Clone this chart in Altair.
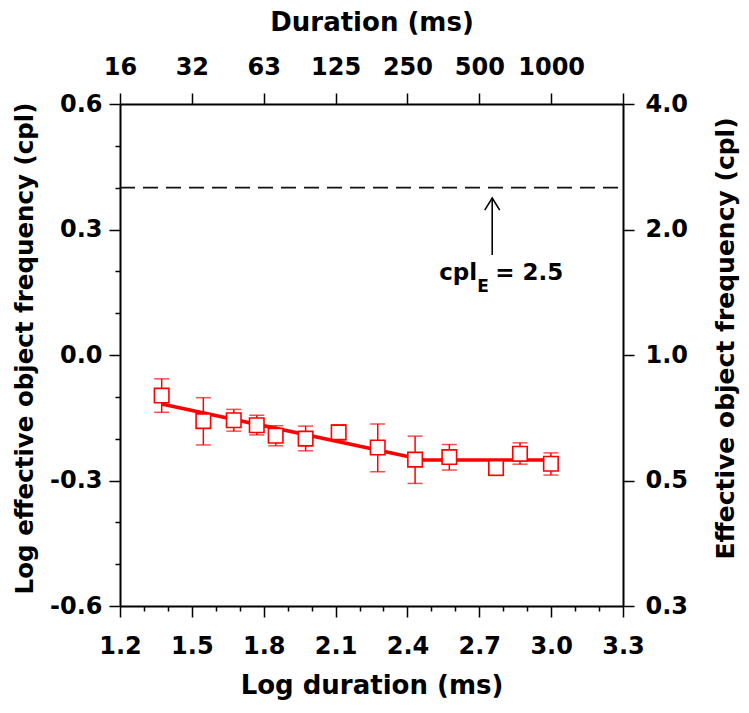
import json
import altair as alt
import pandas as pd
import numpy as np

# ---------------- data ----------------
log_duration = [1.374, 1.548, 1.675, 1.771, 1.850, 1.975, 2.113, 2.276, 2.432, 2.575, 2.770, 2.870, 2.999]
log_freq     = [-0.097, -0.158, -0.156, -0.168, -0.193, -0.200, -0.185, -0.221, -0.250, -0.244, -0.270, -0.236, -0.260]
err_high     = [-0.057, -0.102, -0.130, -0.144, -0.169, -0.170, -0.167, -0.165, -0.194, -0.214, -0.253, -0.210, -0.234]
err_low      = [-0.137, -0.215, -0.182, -0.191, -0.217, -0.229, -0.203, -0.279, -0.307, -0.275, -0.288, -0.261, -0.287]

fit_x = [1.374, 2.47, 2.999]
fit_y = [-0.117, -0.251, -0.251]

criterion_log = 0.4          # cplE = 2.5
arrow_x = 2.754
arrow_top = 0.375
arrow_bottom = 0.239
note_y = 0.179

x_ticks = [1.2, 1.5, 1.8, 2.1, 2.4, 2.7, 3.0, 3.3]
x_tick_labels = ["1.2", "1.5", "1.8", "2.1", "2.4", "2.7", "3.0", "3.3"]
top_tick_labels = ["16", "32", "63", "125", "250", "500", "1000", ""]
y_ticks = [-0.6, -0.3, 0.0, 0.3, 0.6]
y_tick_labels = ["-0.6", "-0.3", "0.0", "0.3", "0.6"]
right_tick_labels = ["0.3", "0.5", "1.0", "2.0", "4.0"]
x_minor = [1.3, 1.4, 1.6, 1.7, 1.9, 2.0, 2.2, 2.3, 2.5, 2.6, 2.8, 2.9, 3.1, 3.2]
y_minor = [-0.5, -0.4, -0.2, -0.1, 0.1, 0.2, 0.4, 0.5]

# ---------------- tables ----------------
pts = pd.DataFrame({"x": log_duration, "y": log_freq, "hi": err_high, "lo": err_low})
fit = pd.DataFrame({"x": fit_x, "y": fit_y})
crit = pd.DataFrame({"x": [x_ticks[0]], "x2": [x_ticks[-1]], "y": [criterion_log]})
arrow = pd.DataFrame({"x": [arrow_x], "y": [arrow_top], "y2": [arrow_bottom], "ty": [note_y]})

FONT = "DejaVu Sans"
RED = "#ff0000"
XS = alt.Scale(domain=[1.2, 3.3], nice=False, zero=False)
YS = alt.Scale(domain=[-0.6, 0.6], nice=False, zero=False)


def lexpr(labels, start, step):
    return f"{json.dumps(labels)}[round((datum.value - ({start})) / {step})]"


common_axis = dict(grid=False, domainColor="black", domainWidth=2, tickColor="black",
                   tickWidth=1.5, labelFont=FONT, labelFontSize=24, labelFontWeight="bold",
                   labelColor="black", titleFont=FONT,
                   titleFontWeight="bold", titleColor="black", labelFlush=False,
                   labelOverlap=False)

ax_bottom = alt.Axis(orient="bottom", values=x_ticks, labelExpr=lexpr(x_tick_labels, 1.2, 0.3),
                     tickSize=11, labelPadding=36, labelBaseline="alphabetic",
                     title="Log duration (ms)", titleX=251.5, titleY=87, titleFontSize=26,
                     titleBaseline="alphabetic", titleAlign="center", **common_axis)
ax_bottom_minor = alt.Axis(orient="bottom", values=x_minor, labels=False, tickSize=5,
                           domain=False, title=None, grid=False, tickColor="black", tickWidth=1.5)
ax_top = alt.Axis(orient="top", values=x_ticks, labelExpr=lexpr(top_tick_labels, 1.2, 0.3),
                  tickSize=11, labelPadding=19, labelBaseline="alphabetic",
                  title="Duration (ms)", titleX=251.5, titleY=-74, titleFontSize=26,
                  titleBaseline="alphabetic", titleAlign="center", **common_axis)
ax_left = alt.Axis(orient="left", values=y_ticks, labelExpr=lexpr(y_tick_labels, -0.6, 0.3),
                   tickSize=11, labelPadding=7,
                   title="Log effective object frequency (cpl)", titleX=-88, titleY=244,
                   titleFontSize=24.5,
                   titleAngle=270, titleBaseline="alphabetic", titleAlign="center", **common_axis)
ax_left_minor = alt.Axis(orient="left", values=y_minor, labels=False, tickSize=5,
                         domain=False, title=None, grid=False, tickColor="black", tickWidth=1.5)
ax_right = alt.Axis(orient="right", values=y_ticks, labelExpr=lexpr(right_tick_labels, -0.6, 0.3),
                    tickSize=11, labelPadding=11,
                    title="Effective object frequency (cpl)", titleX=110, titleY=234,
                    titleFontSize=25,
                    titleAngle=270, titleBaseline="alphabetic", titleAlign="center", **common_axis)


def X(field="x", axis=None):
    return alt.X(field, type="quantitative", scale=XS, axis=axis)


def Y(field="y", axis=None):
    return alt.Y(field, type="quantitative", scale=YS, axis=axis)


crit_layer = alt.Chart(crit).mark_rule(color="#111111", strokeWidth=1.6, strokeDash=[15, 8]).encode(
    x=X("x", ax_bottom), x2="x2", y=Y("y", ax_left))

fit_layer = alt.Chart(fit).mark_line(color=RED, strokeWidth=3.5).encode(
    x=X("x", ax_bottom_minor), y=Y("y", ax_left_minor))

err_rule = alt.Chart(pts).mark_rule(color=RED, strokeWidth=1.5).encode(
    x=X("x", ax_top), y=Y("lo", ax_right), y2="hi")
cap_hi = alt.Chart(pts).mark_tick(color=RED, orient="horizontal", size=15, thickness=1.5).encode(
    x=X("x"), y=Y("hi"))
cap_lo = alt.Chart(pts).mark_tick(color=RED, orient="horizontal", size=15, thickness=1.5).encode(
    x=X("x"), y=Y("lo"))
squares = alt.Chart(pts).mark_point(shape="square", filled=True, fill="white", stroke=RED,
                                    strokeWidth=1.6, size=210, opacity=1).encode(
    x=X("x"), y=Y("y"))

shaft = alt.Chart(arrow).mark_rule(color="black", strokeWidth=1.6).encode(
    x=X("x"), y=Y("y"), y2="y2")
head = alt.Chart(arrow).mark_point(shape="M-1,1.6L0,0L1,1.6", filled=False, color="black",
                                   strokeWidth=1.6, size=225, opacity=1).encode(
    x=X("x"), y=Y("y"))
txt_main = alt.Chart(arrow).mark_text(text="cpl", font=FONT, fontSize=23, fontWeight="bold",
                                      align="right", baseline="alphabetic", dx=-15,
                                      color="black").encode(x=X("x"), y=Y("ty"))
txt_sub = alt.Chart(arrow).mark_text(text="E", font=FONT, fontSize=17, fontWeight="bold",
                                     align="left", baseline="alphabetic", dx=-15, dy=12,
                                     color="black").encode(x=X("x"), y=Y("ty"))
txt_eq = alt.Chart(arrow).mark_text(text="= 2.5", font=FONT, fontSize=23, fontWeight="bold",
                                    align="left", baseline="alphabetic", dx=3,
                                    color="black").encode(x=X("x"), y=Y("ty"))

chart = alt.layer(
    crit_layer, fit_layer, err_rule, cap_hi, cap_lo, squares, shaft, head, txt_main, txt_sub, txt_eq
).resolve_scale(x="independent", y="independent").resolve_axis(
    x="independent", y="independent"
).properties(
    width=503, height=502,
    autosize=alt.AutoSizeParams(type="none"),
    padding={"left": 112, "top": 96, "right": 118, "bottom": 96},
).configure_view(stroke=None).configure(background="white")

chart.save("out.html", embed_options={"renderer": "svg", "actions": False})
